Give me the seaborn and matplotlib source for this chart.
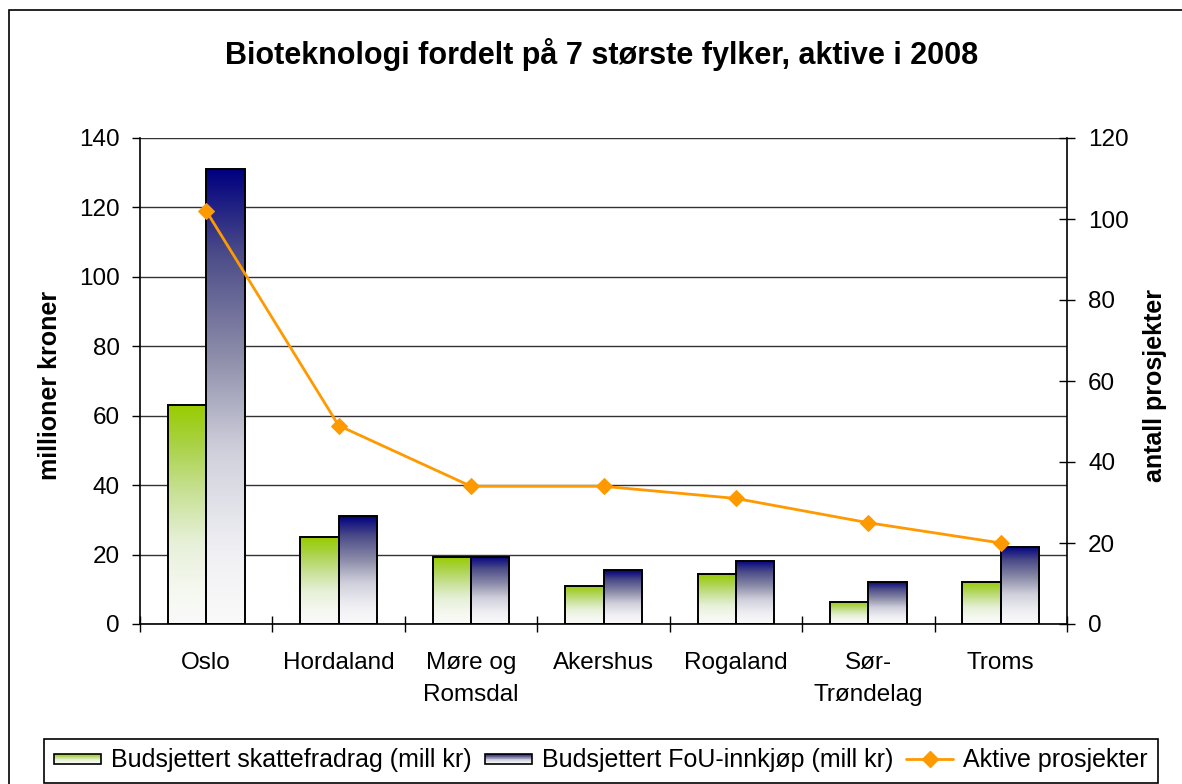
import numpy as np
import pandas as pd
import seaborn as sns
import matplotlib
matplotlib.use("Agg")
import matplotlib.pyplot as plt
from matplotlib.patches import Rectangle, Patch
from matplotlib.lines import Line2D
from matplotlib.legend_handler import HandlerBase
from matplotlib.colors import LinearSegmentedColormap

# --- data -------------------------------------------------------------------
fylker = ["Oslo", "Hordaland", "Møre og\nRomsdal", "Akershus", "Rogaland",
          "Sør-\nTrøndelag", "Troms"]
skattefradrag = [63, 25, 19.4, 11, 14.3, 6.4, 12.1]       # mill kr
fou_innkjop = [131, 31, 19.4, 15.5, 18.2, 12.1, 22.3]     # mill kr
aktive_prosjekter = [102, 49, 34, 34, 31, 25, 20]

serie_skatt = "Budsjettert skattefradrag (mill kr)"
serie_fou = "Budsjettert FoU-innkjøp (mill kr)"
serie_prosjekter = "Aktive prosjekter"
tittel = "Bioteknologi fordelt på 7 største fylker, aktive i 2008"
venstre_akse = "millioner kroner"
hoyre_akse = "antall prosjekter"

GREEN = "#99CC00"
NAVY = "#000080"
ORANGE = "#FF9900"

# fade profiles (bottom -> top) for the bar fills
FADE_STOPS = [0.0, 0.16, 0.38, 0.60, 0.82, 1.0]
GREEN_FADE = ["#fafafa", "#f5f8f0", "#e6f0d7", "#c8e196", "#aad246", GREEN]
NAVY_FADE = ["#fafafa", "#f0f0f4", "#d0d0dc", "#8a8aa8", "#4a4a88", NAVY]

sns.set_theme(style="white")
plt.rcParams["font.family"] = ["Liberation Sans", "DejaVu Sans"]
plt.rcParams["text.color"] = "black"
plt.rcParams["axes.labelcolor"] = "black"
plt.rcParams["xtick.color"] = "black"
plt.rcParams["ytick.color"] = "black"

W, H = 1182, 784
fig, ax = plt.subplots(figsize=(W / 100, H / 100), dpi=100)
fig.subplots_adjust(left=140 / W, right=1067 / W, bottom=1 - 624 / H, top=1 - 138 / H)

df = pd.DataFrame({
    "fylke": fylker * 2,
    "serie": [serie_skatt] * len(fylker) + [serie_fou] * len(fylker),
    "verdi": skattefradrag + fou_innkjop,
})

sns.barplot(data=df, x="fylke", y="verdi", hue="serie",
            hue_order=[serie_skatt, serie_fou], palette=[GREEN, NAVY],
            width=0.58, saturation=1, edgecolor="black", linewidth=1.4,
            legend=False, ax=ax, zorder=3)


def fade_cmap(colors):
    return LinearSegmentedColormap.from_list("fade", list(zip(FADE_STOPS, colors)))


# vertical gradient fill: full colour at the top, fading to white at the base
for container, fade in zip(ax.containers, [GREEN_FADE, NAVY_FADE]):
    cmap = fade_cmap(fade)
    for bar in container:
        x0, y0 = bar.get_x(), bar.get_y()
        w, h = bar.get_width(), bar.get_height()
        im = ax.imshow(np.linspace(0, 1, 256)[:, None],
                       extent=(x0, x0 + w, y0, y0 + h), origin="lower",
                       cmap=cmap, aspect="auto", interpolation="bilinear",
                       zorder=2.5)
        im.set_clip_path(bar)
        bar.set_facecolor("none")

ax.set_aspect("auto")
ax.set_xlim(-0.5, len(fylker) - 0.5)
ax.set_ylim(0, 140)
ax.set_yticks(range(0, 141, 20))
ax.set_xticks(range(len(fylker)))
ax.set_xticklabels(fylker, linespacing=1.6)
ax.set_xticks(np.arange(-0.5, len(fylker), 1), minor=True)
ax.set_xlabel("")
ax.set_ylabel("")

ax.yaxis.grid(True, color="#333333", linewidth=1)
ax.xaxis.grid(False)
ax.set_axisbelow(True)

ax.tick_params(axis="y", which="major", direction="out", length=5.8, width=1,
               labelsize=17.5, pad=8.6, colors="black", left=True)
ax.tick_params(axis="x", which="major", length=0, pad=20, labelsize=17.5,
               colors="black")
ax.tick_params(axis="x", which="minor", direction="inout", length=11.5,
               width=1, color="black", bottom=True)

for side in ["top", "right"]:
    ax.spines[side].set_visible(False)
for side in ["left", "bottom"]:
    ax.spines[side].set_color("black")
    ax.spines[side].set_linewidth(1.2)

# secondary axis: number of active projects
ax2 = ax.twinx()
sns.lineplot(x=np.arange(len(fylker)), y=aktive_prosjekter, ax=ax2,
             color=ORANGE, linewidth=2, marker="D", markersize=8,
             markeredgecolor=ORANGE, sort=False)
ax2.set_ylim(0, 120)
ax2.set_yticks(range(0, 121, 20))
ax2.set_xlim(-0.5, len(fylker) - 0.5)
ax2.set_ylabel("")
ax2.tick_params(axis="y", direction="inout", length=11.5, width=1,
                labelsize=17.5, pad=9.4, colors="black", right=True)
for side in ["top", "left", "bottom"]:
    ax2.spines[side].set_visible(False)
ax2.spines["right"].set_color("black")
ax2.spines["right"].set_linewidth(1.2)
ax.set_xlabel("")

# titles and axis labels
fig.text(602 / W, 1 - 64 / H, tittel, ha="center", va="baseline",
         fontsize=22, fontweight="bold", color="black")
fig.text(50 / W, 1 - 385 / H, venstre_akse, rotation=90, ha="center",
         va="center", fontsize=18, fontweight="bold", color="black")
fig.text(1155 / W, 1 - 386 / H, hoyre_akse, rotation=90, ha="center",
         va="center", fontsize=18, fontweight="bold", color="black")


class GradientHandler(HandlerBase):
    """Legend key drawn as a small bar with the same vertical fade."""

    def __init__(self, fade):
        super().__init__()
        self.cmap = fade_cmap(fade)

    def create_artists(self, legend, orig_handle, xdescent, ydescent,
                       width, height, fontsize, trans):
        hh = height * 0.55
        x0 = -xdescent
        y0 = -ydescent + (height - hh) / 2
        n = 14
        artists = []
        for i in range(n):
            c = self.cmap((i + 0.5) / n)
            artists.append(Rectangle((x0, y0 + i * hh / n), width, hh / n + 0.3,
                                     facecolor=c, edgecolor="none",
                                     transform=trans))
        artists.append(Rectangle((x0, y0), width, hh, fill=False,
                                 edgecolor="black", linewidth=1.2,
                                 transform=trans))
        return artists


h_skatt = Patch(label=serie_skatt)
h_fou = Patch(label=serie_fou)
h_proj = Line2D([], [], color=ORANGE, linewidth=2, marker="D", markersize=8,
                markeredgecolor=ORANGE)
leg = fig.legend(handles=[h_skatt, h_fou, h_proj],
                 labels=[serie_skatt, serie_fou, serie_prosjekter],
                 loc="center", bbox_to_anchor=(601 / W, 1 - 760.5 / H),
                 ncol=3, frameon=True, fancybox=False, framealpha=1,
                 fontsize=18, handlelength=1.9, handletextpad=0.4,
                 columnspacing=0.5, borderpad=0.4,
                 handler_map={h_skatt: GradientHandler(GREEN_FADE),
                              h_fou: GradientHandler(NAVY_FADE)})
leg.get_frame().set_edgecolor("black")
leg.get_frame().set_linewidth(1.2)
for t in leg.get_texts():
    t.set_color("black")

# outer chart frame
fig.add_artist(Rectangle((9 / W, -0.05), 1.1, 1 - 10 / H + 0.05,
                         transform=fig.transFigure, fill=False,
                         edgecolor="black", linewidth=1.2))

fig.savefig("out.png", dpi=100)
